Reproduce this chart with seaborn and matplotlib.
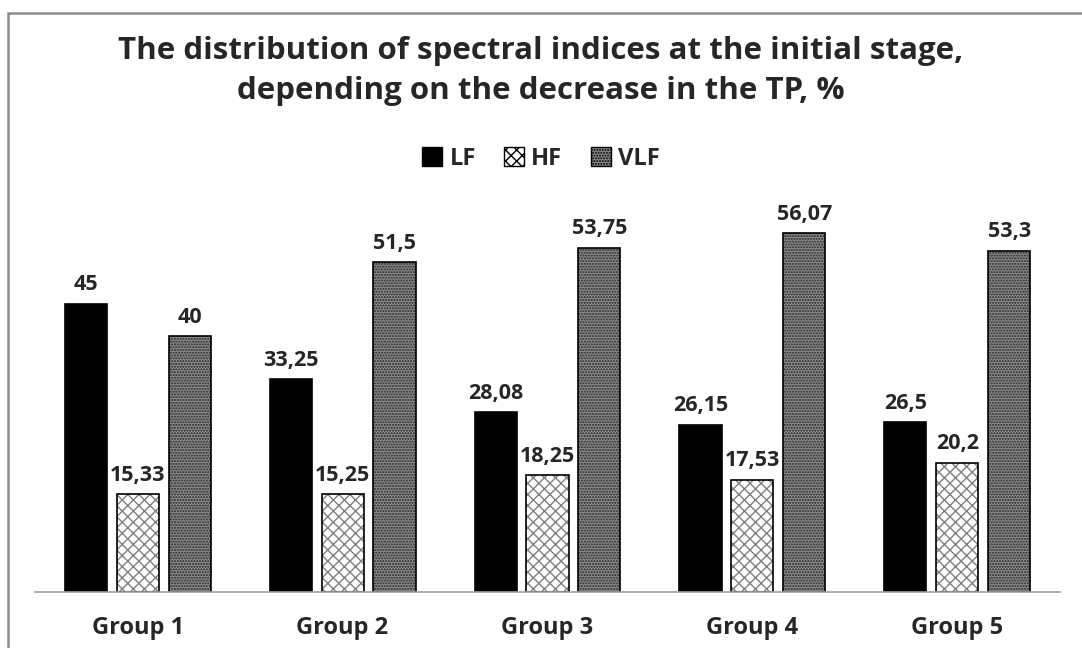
import pandas as pd
import seaborn as sns
import matplotlib.pyplot as plt
from matplotlib.patches import Rectangle, Patch

groups = ["Group 1", "Group 2", "Group 3", "Group 4", "Group 5"]
series = ["LF", "HF", "VLF"]
lf = [45, 33.25, 28.08, 26.15, 26.5]
hf = [15.33, 15.25, 18.25, 17.53, 20.2]
vlf = [40, 51.5, 53.75, 56.07, 53.3]

df = pd.DataFrame({
    "group": groups * 3,
    "index": ["LF"] * 5 + ["HF"] * 5 + ["VLF"] * 5,
    "value": lf + hf + vlf,
})

sns.set_style("white")
plt.rcParams["font.family"] = ["Open Sans", "DejaVu Sans"]

fig = plt.figure(figsize=(10.82, 6.48), dpi=100)
ax = fig.add_axes([0.0325, 0.0864, 0.947, 0.593])

sns.barplot(data=df, x="group", y="value", hue="index", hue_order=series,
            palette=["black", "white", "#8a8a8a"], width=0.76, gap=0.19,
            edgecolor="black", linewidth=1.2, legend=False, ax=ax)

styles = {
    "LF": dict(hatch=None, hc=None),
    "HF": dict(hatch="xxx", hc=(0.5, 0.5, 0.5, 1)),
    "VLF": dict(hatch="......", hc=(0.15, 0.15, 0.15, 1)),
}
for name, cont in zip(series, ax.containers):
    st = styles[name]
    for bar in cont:
        if st["hatch"]:
            bar.set_hatch(st["hatch"])
            bar._hatch_color = st["hc"]
    vals = [b.get_height() for b in cont]
    ax.bar_label(cont, labels=[f"{v:g}".replace(".", ",") for v in vals],
                 padding=6, fontsize=15.5, fontweight="bold")

ax.set_ylim(0, 60)
ax.set_xlim(-0.5, 4.5)
ax.set_yticks([])
ax.set_xlabel("")
ax.set_ylabel("")
for s in ["top", "right", "left"]:
    ax.spines[s].set_visible(False)
ax.spines["bottom"].set_color("#a0a0a0")
ax.spines["bottom"].set_linewidth(1.2)
ax.tick_params(axis="x", length=0, pad=17)
for lbl in ax.get_xticklabels():
    lbl.set_fontsize(17)
    lbl.set_fontweight("bold")

fig.suptitle("The distribution of spectral indices at the initial stage,\n"
             "depending on the decrease in the TP, %",
             y=0.945, fontsize=22.5, fontweight="bold", linespacing=1.45)

handles = [
    Patch(facecolor="black", edgecolor="black"),
    Patch(facecolor="white", edgecolor="black", hatch="xxx"),
    Patch(facecolor="#8a8a8a", edgecolor="black", hatch="......"),
]
leg = fig.legend(handles, series, loc="center", bbox_to_anchor=(0.5, 0.755),
                 ncol=3, frameon=False, handlelength=0.85, handleheight=0.85,
                 handletextpad=0.3, columnspacing=1.2,
                 prop=dict(size=17, weight="bold"))

fig.patches.append(Rectangle((8 / 1082, -0.1), 1.2, 1.1 - 13 / 648,
                             transform=fig.transFigure, fill=False,
                             edgecolor="#8c8c8c", linewidth=1.8))

fig.savefig("out.png", dpi=100)
